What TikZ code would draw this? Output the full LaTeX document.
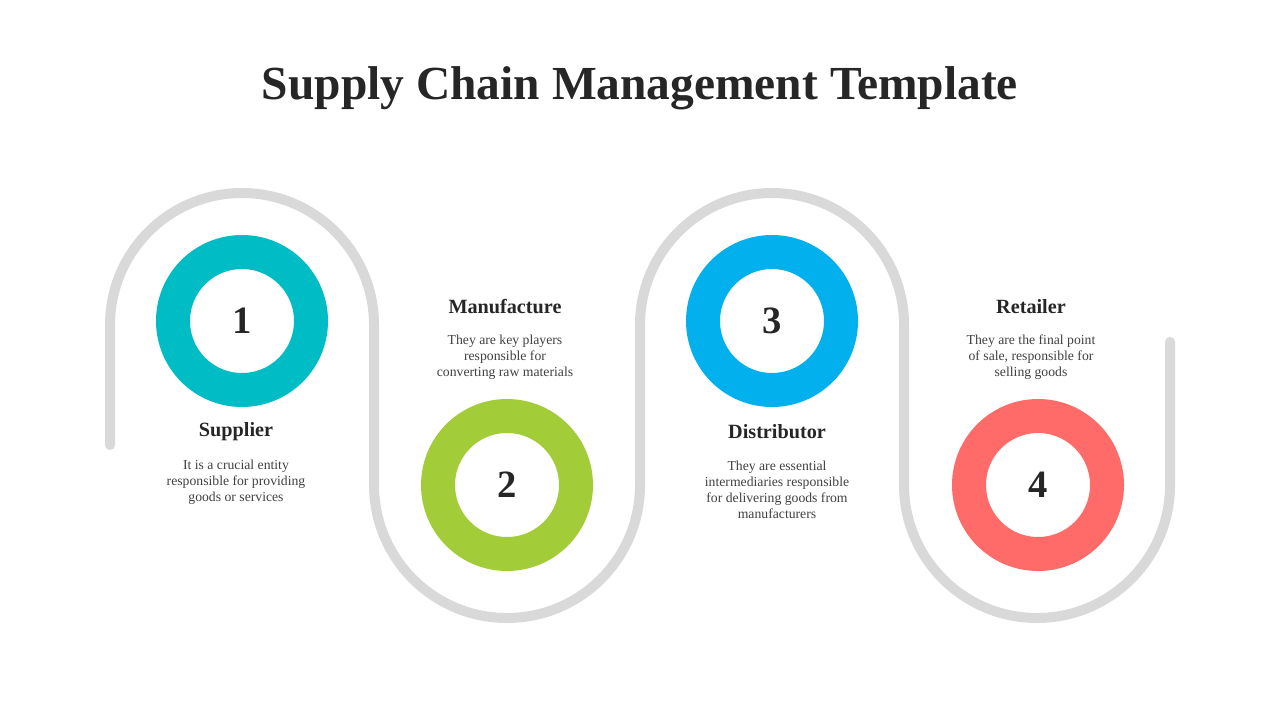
\documentclass[tikz,border=0pt]{standalone}
\usepackage{fontspec}
\setmainfont{Liberation Serif}
\definecolor{track}{HTML}{D9D9D9}
\definecolor{ringA}{HTML}{00BCC4}
\definecolor{ringB}{HTML}{A3CD38}
\definecolor{ringC}{HTML}{03B0EE}
\definecolor{ringD}{HTML}{FF6B68}
\definecolor{ink}{HTML}{262626}
\definecolor{body}{HTML}{404040}
\begin{document}
\begin{tikzpicture}[x=0.02cm,y=-0.02cm,
        ring/.style={circle, draw=#1, line width=34*0.02cm, minimum size=138*0.02cm, fill=white,
                     font=\bfseries\fontsize{22}{24}\selectfont, text=ink},
        heading/.style={font=\bfseries\fontsize{11.5}{13}\selectfont, text=ink},
        blurb/.style={font=\fontsize{7.8}{9}\selectfont, text=body, align=center}
        ]
        \useasboundingbox (0,0) rectangle (1280,720);
        \node[font=\bfseries\fontsize{27}{30}\selectfont, text=ink] (TITLE) at (640,88) {Supply Chain Management Template};
        % track
        \draw[track, line width=10*0.02cm, line cap=round]
            (110,445) -- (110,325) arc[start angle=180, end angle=360, radius=132]
            -- (374,485) arc[start angle=180, end angle=0, radius=133]
            -- (640,325) arc[start angle=180, end angle=360, radius=132]
            -- (904,485) arc[start angle=180, end angle=0, radius=133]
            -- (1170,342);
        \node[ring=ringA] (S1) at (242,321) {1};
        \node[ring=ringB] (S2) at (507,485) {2};
        \node[ring=ringC] (S3) at (772,321) {3};
        \node[ring=ringD] (S4) at (1038,485) {4};
        \node[heading] (H1) at (236,432) {Supplier};
        \node[blurb]   (B1) at (236,482) {It is a crucial entity\\responsible for providing\\goods or services};
        \node[heading] (H2) at (505,307) {Manufacture};
        \node[blurb]   (B2) at (505,357) {They are key players\\responsible for\\converting raw materials};
        \node[heading] (H3) at (777,432) {Distributor};
        \node[blurb]   (B3) at (777,490) {They are essential\\intermediaries responsible\\for delivering goods from\\manufacturers};
        \node[heading] (H4) at (1031,307) {Retailer};
        \node[blurb]   (B4) at (1031,357) {They are the final point\\of sale, responsible for\\selling goods};
\end{tikzpicture}
\end{document}
